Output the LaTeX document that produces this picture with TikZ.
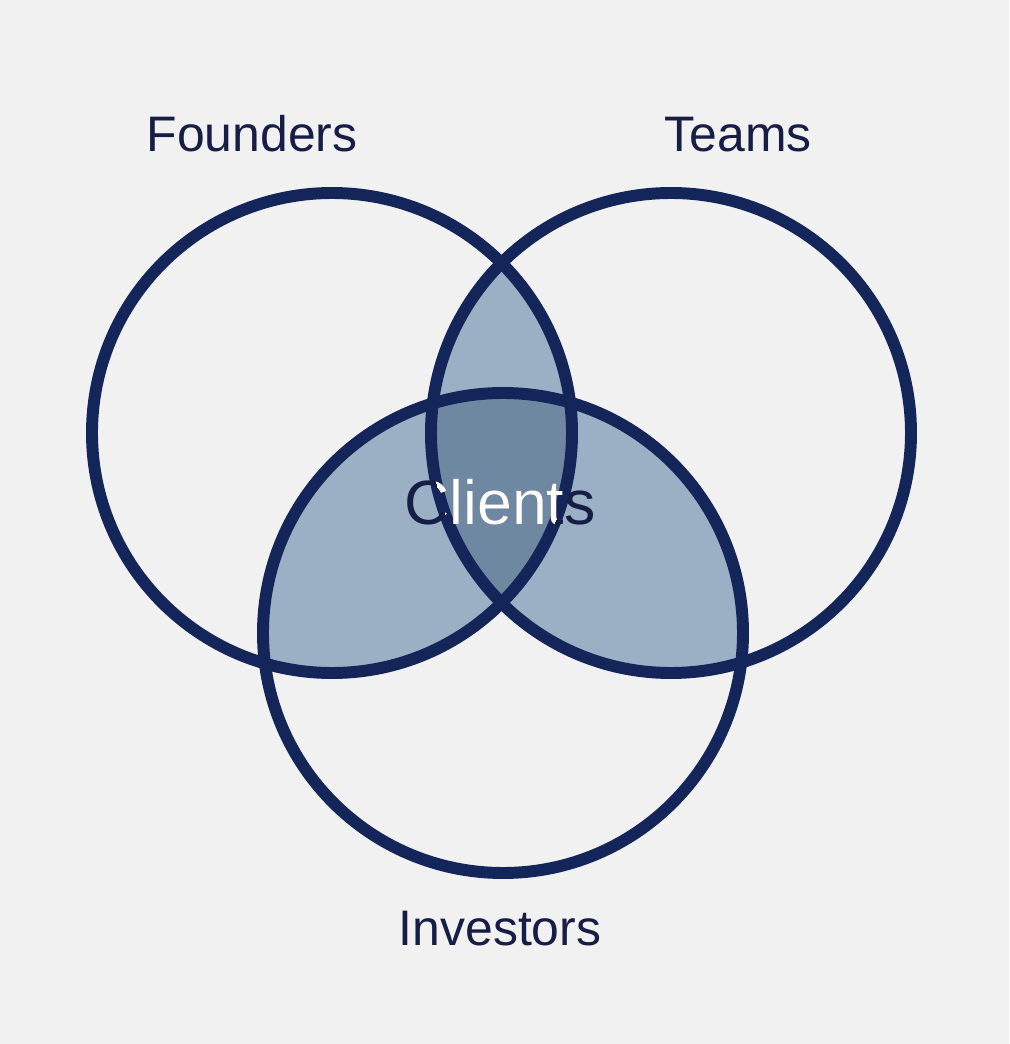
\documentclass[tikz,border=0pt]{standalone}
\usepackage{fontspec}
\setmainfont{Liberation Sans}
\definecolor{paper}{RGB}{241,241,241}
\definecolor{navy}{RGB}{20,37,90}
\definecolor{ink}{RGB}{22,30,70}
\definecolor{lightfill}{RGB}{155,175,197}
\definecolor{darkfill}{RGB}{111,136,162}
\tikzset{
  ring/.style={draw=navy,line width=3.4pt},
  setlabel/.style={anchor=base,text=ink,font=\fontsize{14.2}{17}\selectfont},
  centrelabel/.style={anchor=base,font=\fontsize{17.8}{21}\selectfont}
}
\begin{document}
\begin{tikzpicture}
  \fill[paper] (0,0) rectangle (10.09,10.44);
  \useasboundingbox (0,0) rectangle (10.09,10.44);

  \coordinate (founders) at (3.32,6.11);
  \coordinate (teams) at (6.71,6.11);
  \coordinate (investors) at (5.03,4.11);

  % pairwise overlaps, then the middle
  \begin{scope}
    \clip (founders) circle (2.4);
    \fill[lightfill] (teams) circle (2.4);
    \fill[lightfill] (investors) circle (2.4);
  \end{scope}
  \begin{scope}
    \clip (teams) circle (2.4);
    \fill[lightfill] (investors) circle (2.4);
    \clip (founders) circle (2.4);
    \fill[darkfill] (investors) circle (2.4);
  \end{scope}

  \foreach \c in {founders,teams,investors}
  \draw[ring] (\c) circle (2.4);

  \node[setlabel] (founderslabel) at (2.52,8.92) {Founders};
  \node[setlabel] (teamslabel) at (7.38,8.92) {Teams};
  \node[setlabel] (investorslabel) at (5.00,0.99) {Investors};

  \node[centrelabel,text=ink] (clients) at (5.00,5.19) {Clients};
  \begin{scope}
    \clip (founders) circle (2.4);
    \clip (teams) circle (2.4);
    \clip (investors) circle (2.4);
    \node[centrelabel,text=white] (clientsinner) at (clients.base) {Clients};
  \end{scope}
\end{tikzpicture}
\end{document}
